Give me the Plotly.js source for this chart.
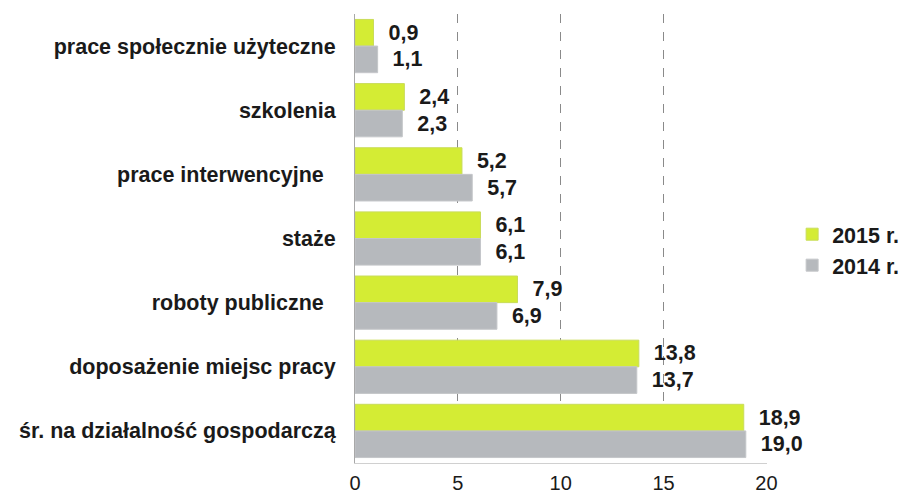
<!DOCTYPE html>
<html>
<head>
<meta charset="utf-8">
<script src="https://cdn.plot.ly/plotly-3.0.1.min.js"></script>
<style>html,body{margin:0;padding:0;background:#fff;}#chart{width:904px;height:494px;}</style>
</head>
<body>
<div id="chart"></div>
<script>
const categories = [
  "prace społecznie użyteczne",
  "szkolenia",
  "prace interwencyjne\u00a0\u00a0",
  "staże",
  "roboty publiczne\u00a0\u00a0",
  "doposażenie miejsc pracy",
  "śr. na działalność gospodarczą"
];
const values2015 = [0.9, 2.4, 5.2, 6.1, 7.9, 13.8, 18.9];
const values2014 = [1.1, 2.3, 5.7, 6.1, 6.9, 13.7, 19.0];
const seriesNames = ["2015 r.", "2014 r."];
const xTicks = [0, 5, 10, 15, 20];

const fmt = v => "\u00a0\u00a0" + v.toFixed(1).replace(".", ",");
const labelFont = {family: "Liberation Sans, Arial, sans-serif", size: 21.5, color: "#1a1a1a", weight: 700};

const traces = [
  {name: seriesNames[0], values: values2015, color: "#D4EC34", line: "#C9DC5A"},
  {name: seriesNames[1], values: values2014, color: "#B6B9BD", line: "#C4C6C9"}
].map(s => ({
  type: "bar",
  orientation: "h",
  name: s.name,
  y: categories,
  x: s.values,
  text: s.values.map(fmt),
  textposition: "outside",
  textfont: labelFont,
  cliponaxis: false,
  marker: {color: s.color, line: {color: s.line, width: 1}},
  hoverinfo: "x+y"
}));

const layout = {
  width: 904, height: 494,
  margin: {l: 355, r: 137, t: 14, b: 31, autoexpand: false},
  paper_bgcolor: "#fff", plot_bgcolor: "#fff",
  barmode: "group", bargap: 0.17, bargroupgap: 0,
  separators: ", ",
  showlegend: true,
  legend: {
    x: 1.061, xanchor: "left", y: 0.475, yanchor: "middle",
    font: labelFont, bgcolor: "rgba(0,0,0,0)"
  },
  xaxis: {
    range: [0, 20.03], tickvals: xTicks, ticktext: xTicks.map(String),
    showgrid: true, gridcolor: "#8a8a8a", griddash: "dash", gridwidth: 1,
    zeroline: false, showline: true, linecolor: "#d0d0d0", linewidth: 1,
    ticks: "", ticklabelstandoff: 2,
    tickfont: {family: "Liberation Sans, Arial, sans-serif", size: 20, color: "#1a1a1a"},
    fixedrange: true
  },
  yaxis: {
    type: "category", autorange: "reversed",
    showgrid: false, zeroline: false, showline: true, linecolor: "#a8a8a8", linewidth: 1,
    ticks: "", ticklabelstandoff: 14,
    tickfont: labelFont, fixedrange: true
  }
};

Plotly.newPlot("chart", traces, layout, {displayModeBar: false, staticPlot: true});
</script>
</body>
</html>
